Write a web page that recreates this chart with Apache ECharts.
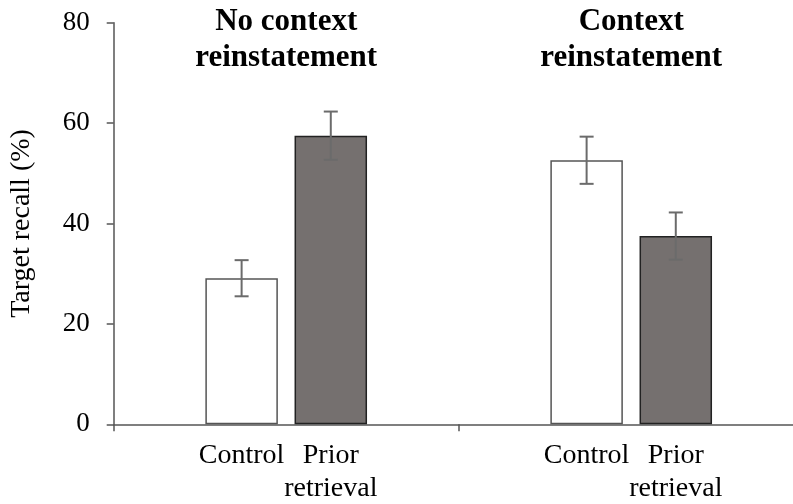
<!DOCTYPE html>
<html>
<head>
<meta charset="utf-8">
<script src="https://cdn.jsdelivr.net/npm/echarts@6/dist/echarts.min.js"></script>
<style>
  html, body { margin: 0; padding: 0; background: #fff; }
  #chart { width: 793px; height: 504px; }
</style>
</head>
<body>
<div id="chart"></div>
<script>
// Group headings (one per context condition)
const groups = ['No context\nreinstatement', 'Context\nreinstatement'];
// Condition names shown beneath each bar
const conditions = ['Control', 'Prior\nretrieval'];
// Mean target recall (%) per group
const controlMean = [29.1, 52.6];
const priorMean = [57.5, 37.5];
// Standard error (%) per group
const controlErr = [3.6, 4.7];
const priorErr = [4.8, 4.7];
// Y axis range
const yMin = 0, yMax = 80, yStep = 20;

const serif = '"Liberation Serif", "Times New Roman", serif';
const BAR_W = 72.5;
const BAR_GAP = '23%';
const HALF_SPACING = (BAR_W + BAR_W * 0.23) / 2;

function errorData(means, errs) {
  return means.map((m, i) => [i, m, errs[i]]);
}

function errorRenderer(shift) {
  return function (params, api) {
    const cat = api.value(0);
    const mean = api.value(1);
    const err = api.value(2);
    const hi = api.coord([cat, mean + err]);
    const lo = api.coord([cat, mean - err]);
    const x = hi[0] + shift;
    const cap = 7;
    const style = { stroke: '#6b6b6b', lineWidth: 2 };
    return {
      type: 'group',
      children: [
        { type: 'line', shape: { x1: x, y1: hi[1], x2: x, y2: lo[1] }, style },
        { type: 'line', shape: { x1: x - cap, y1: hi[1], x2: x + cap, y2: hi[1] }, style },
        { type: 'line', shape: { x1: x - cap, y1: lo[1], x2: x + cap, y2: lo[1] }, style }
      ]
    };
  };
}

const chart = echarts.init(document.getElementById('chart'));
chart.setOption({
  animation: false,
  backgroundColor: '#fff',
  // the plot area runs past the right edge of the canvas
  grid: {
    left: 113.7, width: 690, top: 22.7, height: 401.6,
    containLabel: false,
    outerBoundsMode: 'none'
  },
  xAxis: [
    {
      type: 'category',
      data: groups,
      position: 'bottom',
      boundaryGap: true,
      axisLine: { show: true, lineStyle: { color: '#555', width: 1.5 } },
      axisTick: { show: true, length: 7, lineStyle: { color: '#555', width: 1.5 } },
      axisLabel: { show: false },
      splitLine: { show: false }
    },
    {
      type: 'category',
      data: groups,
      position: 'top',
      boundaryGap: true,
      axisLine: { show: false },
      axisTick: { show: false },
      axisLabel: {
        show: true,
        margin: -54,
        fontFamily: serif,
        fontSize: 31,
        fontWeight: 'bold',
        lineHeight: 36.6,
        color: '#000'
      },
      splitLine: { show: false }
    }
  ],
  yAxis: {
    type: 'value',
    min: yMin,
    max: yMax,
    interval: yStep,
    name: 'Target recall (%)',
    nameLocation: 'middle',
    nameGap: 78,
    nameTextStyle: { fontFamily: serif, fontSize: 28, color: '#000' },
    axisLine: { show: true, lineStyle: { color: '#555', width: 1.5 } },
    axisTick: { show: true, inside: false, length: 7, lineStyle: { color: '#555', width: 1.5 } },
    axisLabel: { margin: 24, fontFamily: serif, fontSize: 27, color: '#000' },
    splitLine: { show: false }
  },
  series: [
    {
      name: conditions[0],
      type: 'bar',
      xAxisIndex: 0,
      data: controlMean,
      barWidth: BAR_W,
      barGap: BAR_GAP,
      itemStyle: { color: '#ffffff', borderColor: '#555', borderWidth: 1.5 },
      label: {
        show: true,
        position: 'bottom',
        distance: 15,
        formatter: () => conditions[0],
        fontFamily: serif,
        fontSize: 28,
        lineHeight: 33,
        color: '#000'
      },
      z: 2
    },
    {
      name: conditions[1],
      type: 'bar',
      xAxisIndex: 0,
      data: priorMean,
      barWidth: BAR_W,
      barGap: BAR_GAP,
      itemStyle: { color: '#75706f', borderColor: '#222', borderWidth: 1.5 },
      label: {
        show: true,
        position: 'bottom',
        distance: 15,
        formatter: () => conditions[1],
        fontFamily: serif,
        fontSize: 28,
        lineHeight: 33,
        align: 'center',
        color: '#000'
      },
      z: 2
    },
    {
      type: 'custom',
      xAxisIndex: 0,
      data: errorData(controlMean, controlErr),
      renderItem: errorRenderer(-HALF_SPACING),
      z: 5
    },
    {
      type: 'custom',
      xAxisIndex: 0,
      data: errorData(priorMean, priorErr),
      renderItem: errorRenderer(HALF_SPACING),
      z: 5
    }
  ]
});
</script>
</body>
</html>
